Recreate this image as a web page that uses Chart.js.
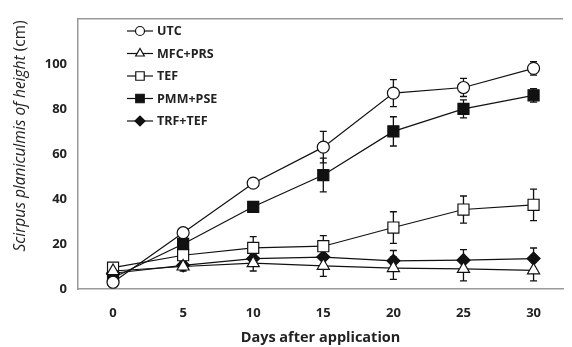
<!DOCTYPE html>
<html>
<head>
<meta charset="utf-8">
<script src="https://cdn.jsdelivr.net/npm/chart.js@4.4.1/dist/chart.umd.min.js"></script>
<style>
  html, body { margin: 0; padding: 0; background: #fff; overflow: hidden; }
  #wrap { width: 572px; height: 347px; }
</style>
</head>
<body>
<div id="wrap"><canvas id="c" width="572" height="347"></canvas></div>
<script>
// days after application
const days = [0, 5, 10, 15, 20, 25, 30];
const xTicks = [0, 5, 10, 15, 20, 25, 30];
const yTicks = [0, 20, 40, 60, 80, 100];

const seriesNames = ['UTC', 'MFC+PRS', 'TEF', 'PMM+PSE', 'TRF+TEF'];

const utc    = [3, 25, 47, 63, 87, 89.5, 98];
const utcErr = [1, 1.5, 1.5, 7, 6, 4, 3];
const mfc    = [8, 10, 11.5, 10.3, 9.3, 8.9, 8.3];
const mfcErr = [1, 2, 3.5, 4.7, 5, 5.3, 4.7];
const tef    = [9.5, 15, 18.3, 19, 27.3, 35.3, 37.4];
const tefErr = [1, 2, 5, 4.7, 7, 6, 7];
const pmm    = [5, 20, 36.5, 50.6, 70, 80, 86];
const pmmErr = [1, 2, 2, 7.5, 6.5, 4, 3];
const trf    = [7, 10.5, 13.5, 14.2, 12.5, 12.8, 13.5];
const trfErr = [1, 1.5, 2, 4, 4.6, 4.7, 4.7];

const styles = [
  { pointStyle: 'circle',   fill: '#fff', r: 6,   lr: 4.5 },
  { pointStyle: 'triangle', fill: '#fff', r: 7,   lr: 5 },
  { pointStyle: 'rect',     fill: '#fff', r: 7.8, lr: 6 },
  { pointStyle: 'rect',     fill: '#111', r: 7.8, lr: 6 },
  { pointStyle: 'rectRot',  fill: '#111', r: 6.5, lr: 5 }
];
const values = [utc, mfc, tef, pmm, trf];
const errors = [utcErr, mfcErr, tefErr, pmmErr, trfErr];

const datasets = seriesNames.map((name, i) => ({
  label: name,
  data: days.map((d, j) => ({ x: d, y: values[i][j] })),
  errs: errors[i],
  borderColor: '#111',
  borderWidth: 1.2,
  pointStyle: styles[i].pointStyle,
  pointRadius: styles[i].r,
  pointHoverRadius: styles[i].r,
  pointBackgroundColor: styles[i].fill,
  pointBorderColor: '#111',
  pointBorderWidth: 1.2,
  legendR: styles[i].lr,
  tension: 0,
  fill: false
}));

const errorBars = {
  id: 'errorBars',
  beforeDatasetsDraw(chart) {
    const ctx = chart.ctx, xs = chart.scales.x, ys = chart.scales.y;
    ctx.save();
    ctx.strokeStyle = '#111';
    ctx.lineWidth = 1.3;
    chart.data.datasets.forEach(ds => {
      ds.data.forEach((p, j) => {
        const e = ds.errs[j];
        const px = xs.getPixelForValue(p.x);
        const t = ys.getPixelForValue(p.y + e);
        const b = ys.getPixelForValue(Math.max(0, p.y - e));
        ctx.beginPath();
        ctx.moveTo(px, t); ctx.lineTo(px, b);
        ctx.moveTo(px - 3.5, t); ctx.lineTo(px + 3.5, t);
        ctx.moveTo(px - 3.5, b); ctx.lineTo(px + 3.5, b);
        ctx.stroke();
      });
    });
    ctx.restore();
  }
};

const frameAndText = {
  id: 'frameAndText',
  afterDraw(chart) {
    const ctx = chart.ctx, a = chart.chartArea;
    ctx.save();
    // top frame line
    ctx.strokeStyle = '#999';
    ctx.lineWidth = 1.5;
    ctx.beginPath();
    ctx.moveTo(a.left, a.top); ctx.lineTo(a.right, a.top);
    ctx.stroke();

    // legend
    const lx = 127, ly = 31, step = 22.5;
    chart.data.datasets.forEach((ds, i) => {
      const y = ly + i * step;
      ctx.strokeStyle = '#111';
      ctx.lineWidth = 1.2;
      ctx.beginPath();
      ctx.moveTo(lx, y); ctx.lineTo(lx + 26, y);
      ctx.stroke();
      ctx.fillStyle = ds.pointBackgroundColor;
      Chart.helpers.drawPoint(ctx, { pointStyle: ds.pointStyle, radius: ds.legendR, rotation: 0, borderWidth: 1.2 }, lx + 13, y);
      ctx.fillStyle = '#222';
      ctx.font = 'bold 12.5px "Open Sans", "Noto Sans", sans-serif';
      ctx.textBaseline = 'middle';
      ctx.textAlign = 'left';
      ctx.fillText(ds.label, lx + 30, y + 0.5);
    });

    // y axis title: italic species name + upright unit
    const p1 = 'Scirpus planiculmis of height', p2 = ' (cm)';
    const f1 = 'italic 15.5px "Open Sans", "Noto Sans", sans-serif';
    const f2 = '15.5px "Open Sans", "Noto Sans", sans-serif';
    ctx.font = f1; const w1 = ctx.measureText(p1).width;
    ctx.font = f2; const w2 = ctx.measureText(p2).width;
    ctx.translate(21, 136);
    ctx.rotate(-Math.PI / 2);
    ctx.fillStyle = '#222';
    ctx.textBaseline = 'middle';
    ctx.textAlign = 'left';
    const start = -(w1 + w2) / 2;
    ctx.font = f1; ctx.fillText(p1, start, 0);
    ctx.font = f2; ctx.fillText(p2, start + w1, 0);
    ctx.restore();
  }
};

new Chart(document.getElementById('c'), {
  type: 'line',
  data: { datasets },
  options: {
    responsive: false,
    animation: false,
    layout: { padding: { top: 11, right: 0, left: 0, bottom: 0 } },
    plugins: { legend: { display: false }, tooltip: { enabled: false } },
    scales: {
      x: {
        type: 'linear',
        min: -2.5, max: 32.1,
        afterBuildTicks: s => { s.ticks = xTicks.map(v => ({ value: v })); },
        afterFit: s => { s.height = 58; },
        grid: { display: false, drawTicks: false },
        border: { display: true, color: '#999', width: 1.5 },
        ticks: { padding: 16, color: '#222', font: { family: '"Open Sans", "Noto Sans", sans-serif', size: 13, weight: 'bold' } },
        title: { display: true, text: 'Days after application', color: '#222', padding: { top: 0, bottom: 0 },
                 font: { family: '"Open Sans", "Noto Sans", sans-serif', size: 14.5, weight: 'bold' } }
      },
      y: {
        min: 0, max: 120,
        afterBuildTicks: s => { s.ticks = yTicks.map(v => ({ value: v })); },
        afterFit: s => { s.width = 78; },
        grid: { display: false, drawTicks: false },
        border: { display: true, color: '#999', width: 1.5 },
        ticks: { padding: 11, color: '#222', font: { family: '"Open Sans", "Noto Sans", sans-serif', size: 13, weight: 'bold' } }
      }
    }
  },
  plugins: [errorBars, frameAndText]
});
</script>
</body>
</html>
